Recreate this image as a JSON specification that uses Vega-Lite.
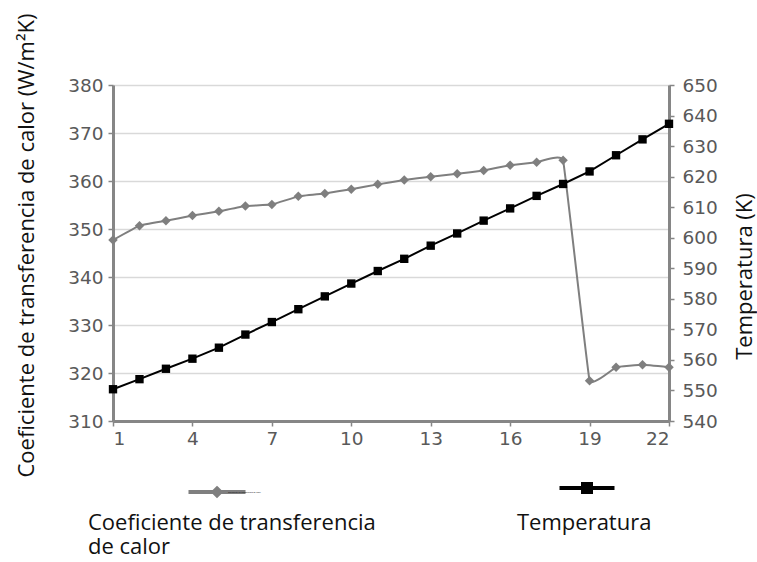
{
  "$schema": "https://vega.github.io/schema/vega-lite/v6.json",
  "width": 556,
  "height": 336,
  "autosize": {"type": "none"},
  "padding": {"left": 113, "top": 85, "right": 88, "bottom": 141},
  "background": "white",
  "config": {
    "view": {"stroke": null},
    "axis": {
      "domainColor": "#868686",
      "domainWidth": 3,
      "tickColor": "#868686",
      "tickWidth": 1.5,
      "tickSize": 5,
      "labelFont": "DejaVu Sans",
      "labelFontSize": 18.5,
      "labelColor": "#595959",
      "gridColor": "#d9d9d9",
      "gridWidth": 1.5,
      "titleFont": "Open Sans",
      "titleFontSize": 22,
      "titleFontWeight": "normal",
      "titleColor": "#111111",
      "titleLimit": 600
    },
    "legend": {
      "titleFont": "Open Sans",
      "titleFontSize": 22,
      "titleFontWeight": "normal",
      "titleColor": "#111111",
      "titleOrient": "bottom",
      "titleAnchor": "start",
      "titleAlign": "left",
      "titleLineHeight": 24,
      "titleLimit": 600,
      "labelExpr": "''",
      "labelFontSize": 2,
      "symbolSize": 100,
      "symbolStrokeWidth": 4,
      "symbolOpacity": 1
    }
  },
  "data": {
    "values": [
      {"punto": 1, "coef": 347.7, "temp": 550.4},
      {"punto": 2, "coef": 350.7, "temp": 553.7},
      {"punto": 3, "coef": 351.7, "temp": 557.1},
      {"punto": 4, "coef": 352.8, "temp": 560.4},
      {"punto": 5, "coef": 353.7, "temp": 564.0},
      {"punto": 6, "coef": 354.8, "temp": 568.3},
      {"punto": 7, "coef": 355.1, "temp": 572.4},
      {"punto": 8, "coef": 356.8, "temp": 576.6},
      {"punto": 9, "coef": 357.4, "temp": 580.8},
      {"punto": 10, "coef": 358.3, "temp": 585.0},
      {"punto": 11, "coef": 359.3, "temp": 589.1},
      {"punto": 12, "coef": 360.2, "temp": 593.1},
      {"punto": 13, "coef": 360.9, "temp": 597.4},
      {"punto": 14, "coef": 361.5, "temp": 601.4},
      {"punto": 15, "coef": 362.2, "temp": 605.6},
      {"punto": 16, "coef": 363.3, "temp": 609.6},
      {"punto": 17, "coef": 363.9, "temp": 613.7},
      {"punto": 18, "coef": 364.3, "temp": 617.6},
      {"punto": 19, "coef": 318.4, "temp": 621.7},
      {"punto": 20, "coef": 321.2, "temp": 627.0},
      {"punto": 21, "coef": 321.7, "temp": 632.2},
      {"punto": 22, "coef": 321.2, "temp": 637.3}
    ]
  },
  "layer": [
    {
      "mark": {
        "type": "line",
        "interpolate": "cardinal",
        "tension": 0.8,
        "strokeWidth": 2,
        "color": "#8a8a8a",
        "point": {"shape": "diamond", "size": 90, "filled": true, "color": "#7f7f7f"}
      },
      "encoding": {
        "x": {
          "field": "punto",
          "type": "quantitative",
          "scale": {"domain": [1, 22], "nice": false, "zero": false},
          "axis": {
            "values": [1, 4, 7, 10, 13, 16, 19, 22],
            "title": null,
            "grid": false,
            "labelPadding": 3
          }
        },
        "y": {
          "field": "coef",
          "type": "quantitative",
          "scale": {"domain": [310, 380], "nice": false, "zero": false},
          "axis": {
            "orient": "left",
            "values": [310, 320, 330, 340, 350, 360, 370, 380],
            "grid": true,
            "labelPadding": 5,
            "title": "Coeficiente de transferencia de calor (W/m²K)",
            "titleAngle": -90,
            "titleBaseline": "middle",
            "titleAlign": "center",
            "titleX": -87,
            "titleY": 160
          }
        },
        "color": {
          "datum": "Coeficiente de transferencia de calor",
          "scale": {"range": ["#7f7f7f"]},
          "legend": {
            "orient": "none",
            "legendX": -25,
            "legendY": 400,
            "title": ["Coeficiente de transferencia", "de calor"],
            "titlePadding": 9,
            "symbolType": "M-5.7,0H5.7M0,-0.7L0.7,0L0,0.7L-0.7,0Z",
            "symbolOffset": 122,
            "symbolFillColor": "#7f7f7f",
            "symbolStrokeColor": "#7f7f7f"
          }
        }
      }
    },
    {
      "mark": {
        "type": "line",
        "strokeWidth": 2,
        "color": "#000000",
        "point": {"shape": "square", "size": 70, "filled": true, "color": "#000000"}
      },
      "encoding": {
        "x": {"field": "punto", "type": "quantitative"},
        "y": {
          "field": "temp",
          "type": "quantitative",
          "scale": {"domain": [540, 650], "nice": false, "zero": false},
          "axis": {
            "orient": "right",
            "values": [540, 550, 560, 570, 580, 590, 600, 610, 620, 630, 640, 650],
            "grid": false,
            "labelPadding": 8,
            "title": "Temperatura (K)",
            "titleAngle": -90,
            "titleBaseline": "middle",
            "titleAlign": "center",
            "titleX": 75,
            "titleY": 191
          }
        },
        "color": {
          "datum": "Temperatura",
          "scale": {"range": ["#000000"]},
          "legend": {
            "orient": "none",
            "legendX": 404,
            "legendY": 396,
            "title": "Temperatura",
            "titlePadding": 13,
            "symbolType": "M-5.5,0H5.5M-0.8,-0.8H0.8V0.8H-0.8Z",
            "symbolOffset": 63,
            "symbolFillColor": "#000000",
            "symbolStrokeColor": "#000000"
          }
        }
      }
    }
  ],
  "resolve": {"scale": {"y": "independent", "color": "independent"}}
}
